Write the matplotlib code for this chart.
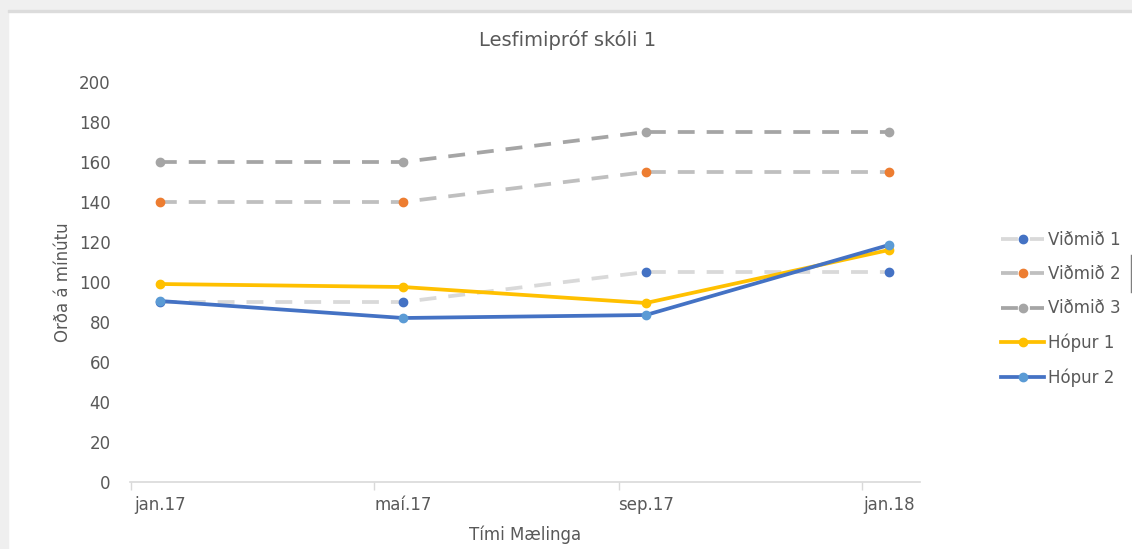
import matplotlib.pyplot as plt
from matplotlib.patches import Rectangle

plt.rcParams['font.family'] = ['DejaVu Sans']

months = ['jan.17', 'maí.17', 'sep.17', 'jan.18']
vidmid1 = [90, 90, 105, 105]
vidmid2 = [140, 140, 155, 155]
vidmid3 = [160, 160, 175, 175]
hopur1 = [99, 97.5, 89.5, 116]
hopur2 = [90.5, 82, 83.5, 118.5]

txt = '#595959'
fig = plt.figure(figsize=(11.32, 5.49), dpi=100)
# light gray frame of the screenshot (top and left)
fig.patches.append(Rectangle((0, 1 - 10/549), 1, 10/549, transform=fig.transFigure, color='#f0f0f0', zorder=0))
fig.patches.append(Rectangle((0, 0), 8/1132, 1, transform=fig.transFigure, color='#efefef', zorder=0))
fig.patches.append(Rectangle((8/1132, 1 - 12/549), 1, 2/549, transform=fig.transFigure, color='#dcdcdc', zorder=0))

ax = fig.add_axes([130/1132, 67/549, 790/1132, 400/549])
x = list(range(len(months)))
dash = (0, (4.5, 3.2))
lw = 2.7

ax.plot(x, vidmid1, color='#d9d9d9', lw=lw, ls=dash, marker='o', ms=6,
        mfc='#4472c4', mec='#4472c4', label='Viðmið 1', zorder=2)
ax.plot(x, vidmid2, color='#bfbfbf', lw=lw, ls=dash, marker='o', ms=6,
        mfc='#ed7d31', mec='#ed7d31', label='Viðmið 2', zorder=2)
ax.plot(x, vidmid3, color='#a5a5a5', lw=lw, ls=dash, marker='o', ms=6,
        mfc='#a5a5a5', mec='#a5a5a5', label='Viðmið 3', zorder=2)
ax.plot(x, hopur1, color='#ffc000', lw=lw, marker='o', ms=6,
        mfc='#ffc000', mec='#ffc000', label='Hópur 1', zorder=3)
ax.plot(x, hopur2, color='#4472c4', lw=lw, marker='o', ms=6,
        mfc='#5b9bd5', mec='#5b9bd5', label='Hópur 2', zorder=4)

ax.set_xlim(-0.123, 3.128)
ax.set_ylim(0, 200)
ax.set_yticks(range(0, 201, 20))
ax.set_xticks(x)
ax.set_xticklabels(months)
ax.set_xticks([-0.12, 0.88, 1.89, 2.89], minor=True)
ax.tick_params(axis='x', which='major', length=0, pad=10, colors=txt, labelsize=12)
ax.tick_params(axis='x', which='minor', length=6, color='#d9d9d9', width=1)
ax.tick_params(axis='y', length=0, pad=14, colors=txt, labelsize=12)
for s in ['top', 'right', 'left']:
    ax.spines[s].set_visible(False)
ax.spines['bottom'].set_color('#d9d9d9')
ax.spines['bottom'].set_linewidth(1.2)

ax.set_xlabel('Tími Mælinga', color=txt, fontsize=12, labelpad=8)
ax.set_ylabel('Orða á mínútu', color=txt, fontsize=12, labelpad=5)
fig.text(568/1132, 1 - 40/549, 'Lesfimipróf skóli 1', ha='center', va='center', color=txt, fontsize=14)

leg = ax.legend(loc='upper left', bbox_to_anchor=(1001/1132, 1 - 231/549), bbox_transform=fig.transFigure,
                frameon=False, fontsize=12, labelcolor=txt, handlelength=2.6, handletextpad=0.2,
                labelspacing=0.97, borderaxespad=0, borderpad=0)

# small vertical mark at right edge
fig.add_artist(plt.Line2D([1131/1132, 1131/1132], [1 - 292/549, 1 - 255/549], color='#7f7f7f', lw=1))

fig.savefig('out.png', dpi=100, facecolor='white')
